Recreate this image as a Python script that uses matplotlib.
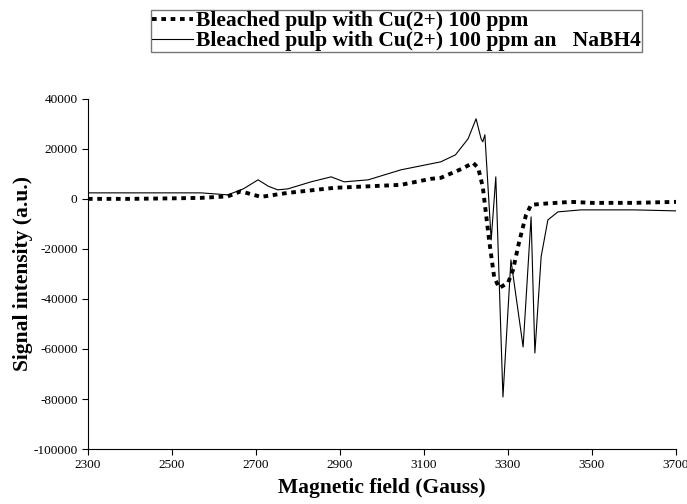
import numpy as np
import matplotlib.pyplot as plt

plt.rcParams['font.family'] = ['Liberation Serif', 'DejaVu Serif']
plt.rcParams['axes.unicode_minus'] = False

# Bleached pulp with Cu(2+) 100 ppm
field_cu = [2300, 2400, 2500, 2569, 2633, 2664, 2712, 2776, 2886, 3045, 3116, 3140,
            3190, 3217, 3229, 3240, 3255, 3267, 3279, 3300, 3312, 3326, 3343, 3355,
            3379, 3450, 3500, 3600, 3700]
signal_cu = [0, 0, 200, 400, 1000, 3000, 800, 2400, 4400, 5600, 8000, 8400,
             12000, 14400, 12400, 4800, -16400, -31200, -35600, -33600, -28400, -17600, -6400, -2400,
             -2000, -1200, -1600, -1600, -1200]

# Bleached pulp with Cu(2+) 100 ppm and NaBH4
field_nabh4 = [2300, 2500, 2569, 2633, 2670, 2705, 2730, 2752, 2776, 2831, 2879, 2910,
               2967, 3045, 3140, 3175, 3205, 3224, 3236, 3240, 3245, 3260, 3271, 3288,
               3307, 3336, 3355, 3364, 3379, 3395, 3419, 3474, 3600, 3700]
signal_nabh4 = [2400, 2400, 2400, 1600, 4000, 7600, 5000, 3600, 4000, 6800, 8800, 6800,
                7600, 11600, 14800, 17600, 24000, 32000, 24000, 22800, 25600, -16400, 8800, -79200,
                -24400, -59200, -7200, -61600, -23000, -8400, -5200, -4400, -4400, -4800]

fig = plt.figure(figsize=(6.87, 5.04), dpi=100)
ax = fig.add_axes([0.128, 0.109, 0.856, 0.695])

l1, = ax.plot(field_cu, signal_cu, color='black', linestyle=(0, (1.2, 1.2)), linewidth=2.8)
l2, = ax.plot(field_nabh4, signal_nabh4, color='black', linewidth=0.8)

ax.set_xlim(2300, 3700)
ax.set_ylim(-100000, 40000)
ax.set_xticks(np.arange(2300, 3701, 200))
ax.set_yticks(np.arange(-100000, 40001, 20000))
ax.tick_params(direction='out', length=4, width=0.8, labelsize=9.5)
for s in ['top', 'right']:
    ax.spines[s].set_visible(False)

ax.set_xlabel('Magnetic field (Gauss)', fontsize=15.5, fontweight='bold', labelpad=5)
ax.set_ylabel('Signal intensity (a.u.)', fontsize=15.5, fontweight='bold', labelpad=0)

leg = fig.legend([l1, l2], ['Bleached pulp with Cu(2+) 100 ppm',
                            'Bleached pulp with Cu(2+) 100 ppm an   NaBH4'],
                 loc='upper left', bbox_to_anchor=(151 / 687, 1 - 10 / 504),
                 prop={'size': 15.5, 'weight': 'bold'}, fancybox=False,
                 handlelength=1.9, handletextpad=0.15, borderpad=0.05,
                 labelspacing=0.0, borderaxespad=0)
leg.get_frame().set_edgecolor('#555555')
leg.get_frame().set_linewidth(1.0)

plt.savefig('out.png', dpi=100)
